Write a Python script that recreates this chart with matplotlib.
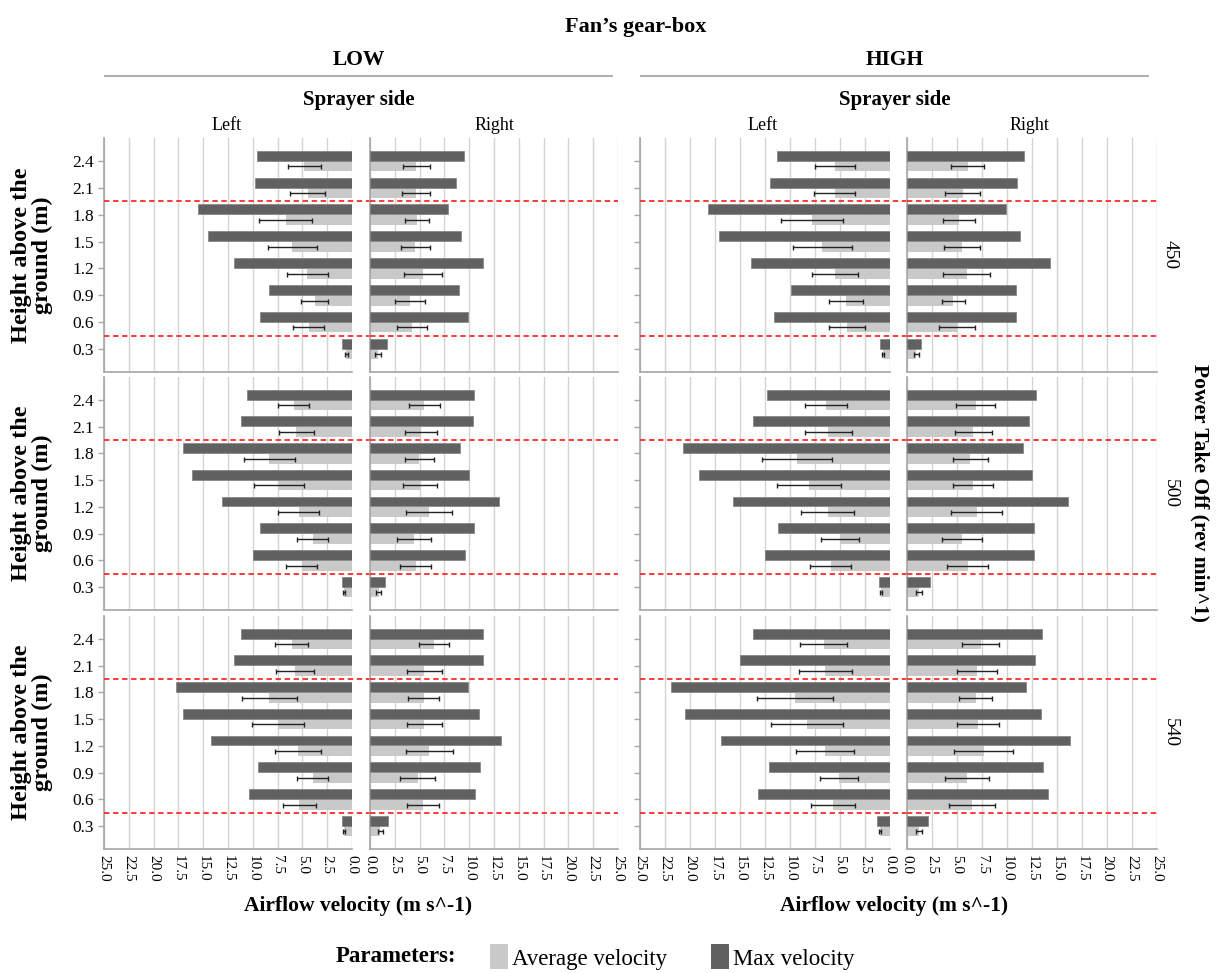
import matplotlib
matplotlib.use("Agg")
import matplotlib.pyplot as plt
from matplotlib.patches import Patch
import numpy as np

plt.rcParams["font.family"] = ["Liberation Serif", "DejaVu Serif"]

# ---------------------------------------------------------------- data
heights = [0.3, 0.6, 0.9, 1.2, 1.5, 1.8, 2.1, 2.4]
pto_levels = ["450", "500", "540"]
gearbox_levels = ["LOW", "HIGH"]
sides = ["Left", "Right"]
x_ticks = [0.0, 2.5, 5.0, 7.5, 10.0, 12.5, 15.0, 17.5, 20.0, 22.5, 25.0]

# PTO 450 rev/min
max_450_low_left = [0.96, 9.24, 8.40, 11.86, 14.50, 15.50, 9.79, 9.55]
avg_450_low_left = [0.56, 4.38, 3.74, 4.50, 6.00, 6.69, 4.46, 4.80]
err_450_low_left = [0.15, 1.53, 1.37, 2.05, 2.49, 2.65, 1.75, 1.63]
max_450_low_right = [1.67, 9.87, 9.00, 11.39, 9.20, 7.84, 8.68, 9.43]
avg_450_low_right = [0.80, 4.26, 4.02, 5.33, 4.58, 4.70, 4.66, 4.66]
err_450_low_right = [0.28, 1.53, 1.50, 1.95, 1.45, 1.21, 1.43, 1.37]
max_450_high_left = [1.03, 11.62, 9.90, 13.95, 17.13, 18.23, 12.04, 11.35]
avg_450_high_left = [0.73, 4.32, 4.43, 5.50, 6.77, 7.80, 5.54, 5.50]
err_450_high_left = [0.12, 1.82, 1.68, 2.27, 2.94, 3.13, 2.06, 1.99]
max_450_high_right = [1.38, 10.91, 10.91, 14.28, 11.26, 9.88, 10.99, 11.72]
avg_450_high_right = [0.92, 5.02, 4.60, 5.97, 5.51, 5.20, 5.55, 6.05]
err_450_high_right = [0.23, 1.78, 1.15, 2.34, 1.78, 1.59, 1.74, 1.68]

# PTO 500 rev/min
max_500_low_left = [0.96, 10.03, 9.24, 13.10, 16.16, 17.04, 11.19, 10.59]
avg_500_low_left = [0.80, 5.06, 3.98, 5.37, 7.32, 8.32, 5.61, 5.89]
err_500_low_left = [0.10, 1.57, 1.53, 2.09, 2.53, 2.61, 1.75, 1.53]
max_500_low_right = [1.55, 9.55, 10.47, 13.02, 10.03, 9.08, 10.39, 10.47]
avg_500_low_right = [0.88, 4.62, 4.42, 5.97, 5.06, 4.98, 5.14, 5.49]
err_500_low_right = [0.26, 1.57, 1.69, 2.33, 1.69, 1.49, 1.63, 1.53]
max_500_high_left = [1.11, 12.55, 11.25, 15.68, 19.13, 20.70, 13.73, 12.28]
avg_500_high_left = [0.88, 5.93, 5.01, 6.24, 8.07, 9.33, 6.20, 6.39]
err_500_high_left = [0.10, 2.07, 1.87, 2.68, 3.19, 3.52, 2.35, 2.10]
max_500_high_right = [2.33, 12.74, 12.70, 16.14, 12.51, 11.59, 12.17, 12.93]
avg_500_high_right = [1.19, 6.08, 5.51, 6.96, 6.62, 6.31, 6.62, 6.85]
err_500_high_right = [0.30, 2.05, 1.97, 2.56, 2.00, 1.76, 1.87, 1.91]

# PTO 540 rev/min
max_540_low_left = [0.96, 10.43, 9.47, 14.21, 17.00, 17.75, 11.94, 11.23]
avg_540_low_left = [0.80, 5.33, 3.98, 5.45, 7.44, 8.36, 5.73, 6.09]
err_540_low_left = [0.10, 1.67, 1.53, 2.31, 2.65, 2.77, 1.93, 1.69]
max_540_low_right = [1.79, 10.63, 11.11, 13.22, 10.95, 9.91, 11.35, 11.35]
avg_540_low_right = [1.03, 5.37, 4.82, 5.97, 5.49, 5.41, 5.49, 6.45]
err_540_low_right = [0.26, 1.61, 1.75, 2.37, 1.75, 1.57, 1.73, 1.53]
max_540_high_left = [1.34, 13.23, 12.08, 16.94, 20.50, 21.88, 15.00, 13.66]
avg_540_high_left = [1.03, 5.74, 5.12, 6.50, 8.30, 9.48, 6.46, 6.62]
err_540_high_left = [0.10, 2.20, 1.93, 2.89, 3.56, 3.81, 2.62, 2.35]
max_540_high_right = [2.10, 14.08, 13.58, 16.33, 13.35, 11.86, 12.82, 13.50]
avg_540_high_right = [1.19, 6.47, 5.97, 7.65, 7.12, 6.85, 6.96, 7.38]
err_540_high_right = [0.27, 2.30, 2.18, 2.93, 2.09, 1.66, 2.01, 1.86]

# canopy band limits (heights)
band_heights = [0.45, 1.95]

panels = {
    ("450", "LOW", "Left"): (max_450_low_left, avg_450_low_left, err_450_low_left),
    ("450", "LOW", "Right"): (max_450_low_right, avg_450_low_right, err_450_low_right),
    ("450", "HIGH", "Left"): (max_450_high_left, avg_450_high_left, err_450_high_left),
    ("450", "HIGH", "Right"): (max_450_high_right, avg_450_high_right, err_450_high_right),
    ("500", "LOW", "Left"): (max_500_low_left, avg_500_low_left, err_500_low_left),
    ("500", "LOW", "Right"): (max_500_low_right, avg_500_low_right, err_500_low_right),
    ("500", "HIGH", "Left"): (max_500_high_left, avg_500_high_left, err_500_high_left),
    ("500", "HIGH", "Right"): (max_500_high_right, avg_500_high_right, err_500_high_right),
    ("540", "LOW", "Left"): (max_540_low_left, avg_540_low_left, err_540_low_left),
    ("540", "LOW", "Right"): (max_540_low_right, avg_540_low_right, err_540_low_right),
    ("540", "HIGH", "Left"): (max_540_high_left, avg_540_high_left, err_540_high_left),
    ("540", "HIGH", "Right"): (max_540_high_right, avg_540_high_right, err_540_high_right),
}

# ---------------------------------------------------------------- layout
W, H = 1217, 973
fig = plt.figure(figsize=(W / 100, H / 100), dpi=100)
fig.patch.set_facecolor("white")

col_px = {("LOW", "Left"): (104, 352), ("LOW", "Right"): (370, 618),
          ("HIGH", "Left"): (640, 890), ("HIGH", "Right"): (907, 1157)}
row_px = [(138, 372), (377, 610), (616, 849)]


def rect(x0, x1, y0, y1):
    return [x0 / W, 1 - y1 / H, (x1 - x0) / W, (y1 - y0) / H]


def fx(px):
    return px / W


def fy(py):
    return 1 - py / H


DARK = "#616161"
LIGHT = "#c9c9c9"
GRID = "#d4d4d4"
SPINE = "#a6a6a6"
RED = "#ff2a2a"

pos = np.arange(len(heights))
bar_h = 0.37
off = 0.2


def height_to_pos(h):
    return np.interp(h, heights, pos)


for r, pto in enumerate(pto_levels):
    for gb in gearbox_levels:
        for side in sides:
            x0, x1 = col_px[(gb, side)]
            y0, y1 = row_px[r]
            ax = fig.add_axes(rect(x0, x1, y0, y1))
            ax.set_facecolor("none")
            vmax, vavg, verr = panels[(pto, gb, side)]
            ax.barh(pos + off, vmax, height=bar_h, color=DARK,
                    edgecolor="#808080", linewidth=0.5, zorder=3)
            ax.barh(pos - off, vavg, height=bar_h, color=LIGHT,
                    linewidth=0, zorder=2)
            ax.errorbar(vavg, pos - off, xerr=verr, fmt="none",
                        ecolor="#222222", elinewidth=1.0, capsize=1.8,
                        capthick=1.0, zorder=4)
            ax.set_ylim(-0.86, 7.86)
            ax.set_xticks(x_ticks)
            ax.xaxis.grid(True, color=GRID, linewidth=1.0, zorder=0)
            ax.set_axisbelow(True)
            for s in ["top", "right"]:
                ax.spines[s].set_visible(False)
            for s in ["left", "bottom"]:
                ax.spines[s].set_color(SPINE)
                ax.spines[s].set_linewidth(1.2)
            ax.tick_params(axis="x", length=0, labelsize=11,
                           labelrotation=-90, pad=4)
            if r == len(pto_levels) - 1:
                ax.set_xticklabels([f"{t:.1f}" for t in x_ticks])
            else:
                ax.set_xticklabels([])
            ax.set_yticks(pos)
            if side == "Left":
                ax.set_xlim(25, 0)
                ax.tick_params(axis="y", length=4, color=SPINE, width=1,
                               labelsize=12.5, pad=3)
                if gb == "LOW":
                    ax.set_yticklabels([f"{h:.1f}" for h in heights])
                else:
                    ax.set_yticklabels([])
                # canopy band limits, carried over the gap between the sides
                gap = (col_px[(gb, "Right")][0] - x0) / (x1 - x0)
                for hb in band_heights:
                    ax.axhline(height_to_pos(hb), xmin=0, xmax=gap,
                               color=RED, linestyle=(0, (3, 2)),
                               linewidth=1.3, clip_on=False, zorder=6)
            else:
                ax.set_xlim(0, 25)
                ax.tick_params(axis="y", length=0)
                ax.set_yticklabels([])
                for hb in band_heights:
                    ax.axhline(height_to_pos(hb), color=RED,
                               linestyle=(0, (3, 2)), linewidth=1.3,
                               zorder=6)

    yc = (row_px[r][0] + row_px[r][1]) / 2
    fig.text(fx(1170), fy(yc), pto, rotation=-90, ha="center", va="center",
             fontsize=14)
    fig.text(fx(32), fy(yc), "Height above the\nground (m)", rotation=90,
             ha="center", va="center", fontsize=17.5, fontweight="bold",
             linespacing=1.0)

# ---------------------------------------------------------------- headers
fig.text(fx(636), fy(27), "Fan\u2019s gear-box", ha="center", va="center",
         fontsize=16, fontweight="bold")
for gb, (xa, xb) in [("LOW", (105, 612)), ("HIGH", (641, 1148))]:
    xc = (xa + xb) / 2
    fig.text(fx(xc), fy(60), gb, ha="center", va="center", fontsize=15.5,
             fontweight="bold")
    fig.add_artist(plt.Line2D([fx(xa), fx(xb)], [fy(76), fy(76)],
                              color="#b0b0b0", linewidth=1.5))
    fig.text(fx(xc), fy(100), "Sprayer side", ha="center", va="center",
             fontsize=15, fontweight="bold")
    fig.text(fx(xc), fy(906), "Airflow velocity (m s^-1)", ha="center",
             va="center", fontsize=15.5, fontweight="bold")

for (gb, side), xc in [(("LOW", "Left"), 227), (("LOW", "Right"), 494),
                       (("HIGH", "Left"), 763), (("HIGH", "Right"), 1029)]:
    fig.text(fx(xc), fy(125), side, ha="center", va="center", fontsize=13)

fig.text(fx(1200), fy(493), "Power Take Off (rev min^1)", rotation=-90,
         ha="center", va="center", fontsize=15.5, fontweight="bold")

# ---------------------------------------------------------------- legend
fig.text(fx(396), fy(957), "Parameters:", ha="center", va="center",
         fontsize=16.5, fontweight="bold")
handles = [Patch(facecolor=LIGHT, edgecolor="none", label="Average velocity"),
           Patch(facecolor=DARK, edgecolor="none", label="Max velocity")]
fig.legend(handles=handles, loc="center left",
           bbox_to_anchor=(fx(490), fy(957)), ncol=2, frameon=False,
           fontsize=16.5, handlelength=0.8, handleheight=1.3,
           handletextpad=0.17, columnspacing=1.9, borderpad=0,
           borderaxespad=0)

fig.savefig("out.png", dpi=100, facecolor="white")
